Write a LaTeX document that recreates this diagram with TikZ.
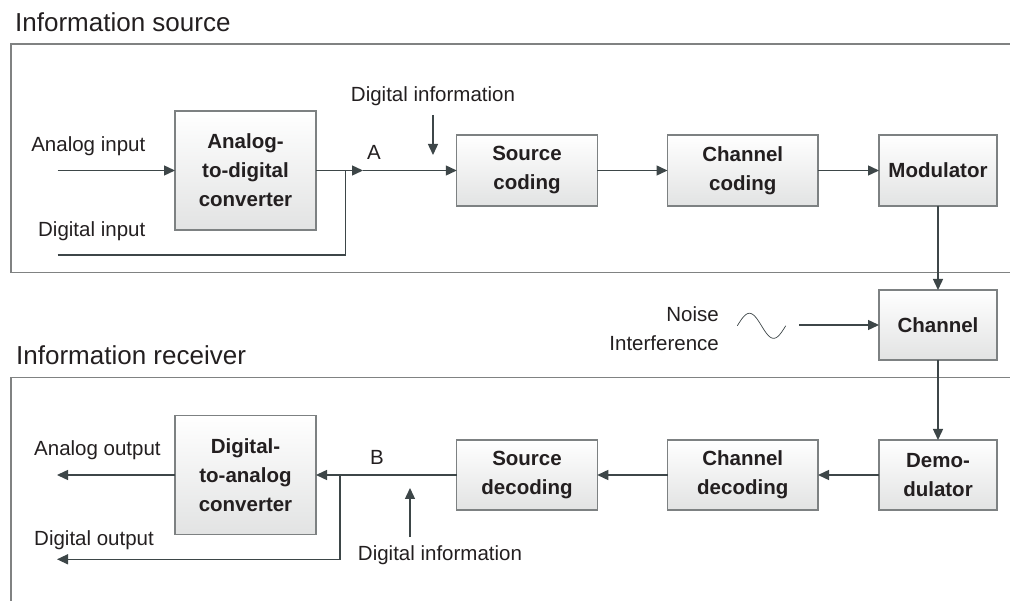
\documentclass[tikz,border=0pt]{standalone}
\usepackage{fontspec}
\setmainfont{Liberation Sans}
\usetikzlibrary{arrows.meta}
\definecolor{linec}{HTML}{3D4648}
\definecolor{boxc}{HTML}{7D8182}
\definecolor{framec}{HTML}{808282}
\definecolor{txtc}{HTML}{231F20}
\definecolor{fillbot}{HTML}{E2E3E3}
\begin{document}
\begin{tikzpicture}[x=1pt,y=-1pt,
  blk/.style={draw=boxc, line width=1.2pt, top color=white, bottom color=fillbot,
    inner sep=0pt, outer sep=0pt, align=center,
    font=\fontsize{20.5}{29}\selectfont\bfseries, text=txtc},
  lbl/.style={font=\fontsize{20.5}{29}\selectfont, text=txtc, inner sep=0pt},
  ttl/.style={font=\fontsize{26}{30}\selectfont, text=txtc, inner sep=0pt},
  conn/.style={draw=linec, line width=1.4pt},
  arr/.style={conn, -{Triangle[length=11pt,width=10pt]}},
  frm/.style={draw=framec, line width=1.2pt}]
\useasboundingbox (0,0) rectangle (1010,601);

% frames
\draw[frm] (1012,44) -- (11,44) -- (11,272.7) -- (1012,272.7);
\draw[frm] (1012,377.5) -- (11,377.5) -- (11,603);

% titles
\node[ttl, anchor=base west] (t1) at (15,32) {Information source};
\node[ttl, anchor=base west] (t2) at (16,365) {Information receiver};

% blocks
\node[blk, minimum width=141pt, minimum height=119pt] (adc) at (245.5,170.5) {Analog-\\to-digital\\converter};
\node[blk, minimum width=140.5pt, minimum height=71pt] (sc) at (527,170.5) {Source\\coding};
\node[blk, minimum width=150.5pt, minimum height=71pt] (cc) at (742.75,170.5) {Channel\\coding};
\node[blk, minimum width=118pt, minimum height=71pt] (mod) at (938,170.5) {Modulator};
\node[blk, minimum width=118pt, minimum height=70pt] (ch) at (938,325) {Channel};
\node[blk, minimum width=118pt, minimum height=70pt] (dem) at (938,475) {Demo-\\dulator};
\node[blk, minimum width=150.5pt, minimum height=70pt] (cd) at (742.75,475) {Channel\\decoding};
\node[blk, minimum width=140.5pt, minimum height=70pt] (sd) at (527,475) {Source\\decoding};
\node[blk, minimum width=141pt, minimum height=119pt] (dac) at (245.5,475) {Digital-\\to-analog\\converter};

% labels
\node[lbl, anchor=base east] (lai) at (145.5,152) {Analog input};
\node[lbl, anchor=base east] (ldi) at (145.5,237) {Digital input};
\node[lbl, anchor=base west] (lao) at (34,456) {Analog output};
\node[lbl, anchor=base west] (ldo) at (34,545) {Digital output};
\node[lbl, anchor=base] (lA) at (374,160) {A};
\node[lbl, anchor=base] (lB) at (377,465) {B};
\node[lbl, anchor=base] (ldt) at (433,102) {Digital information};
\node[lbl, anchor=base] (ldb) at (440,560) {Digital information};
\node[lbl, anchor=base east] (lno) at (719,321.7) {Noise};
\node[lbl, anchor=base east] (lin) at (719,350.7) {Interference};

% free ends
\coordinate (ain) at (57.7,170.5);
\coordinate (din) at (57.7,255);
\coordinate (jA) at (345.7,170.5);
\coordinate (tA) at (363,170.5);
\coordinate (itop) at (433,115);
\coordinate (itopt) at (433,155);
\coordinate (ns) at (799,325);
\coordinate (jB) at (340,475);
\coordinate (aout) at (57,475);
\coordinate (dout) at (57,559.3);
\coordinate (ibot) at (410,537);
\coordinate (ibott) at (410,488);

% noise wave
\draw[draw=linec, line width=0.7pt] plot[domain=0:360, samples=72, smooth]
  ({737.3+\x/360*48.4},{325.8-12.5*sin(\x)});

% connectors (source side)
\draw[arr] (ain) -- (adc.west);
\draw[conn] (adc.east) -- (jA);
\draw[conn] (din) -| (jA);
\draw[arr] (jA) -- (tA);
\draw[arr] (tA) -- (sc.west);
\draw[arr] (itop) -- (itopt);
\draw[arr] (sc.east) -- (cc.west);
\draw[arr] (cc.east) -- (mod.west);
\draw[arr] (mod.south) -- (ch.north);
\draw[arr] (ns) -- (ch.west);
\draw[arr] (ch.south) -- (dem.north);

% connectors (receiver side)
\draw[arr] (dem.west) -- (cd.east);
\draw[arr] (cd.west) -- (sd.east);
\draw[arr] (sd.west) -- (dac.east);
\draw[arr] (jB) |- (dout);
\draw[arr] (dac.west) -- (aout);
\draw[arr] (ibot) -- (ibott);
\end{tikzpicture}
\end{document}
